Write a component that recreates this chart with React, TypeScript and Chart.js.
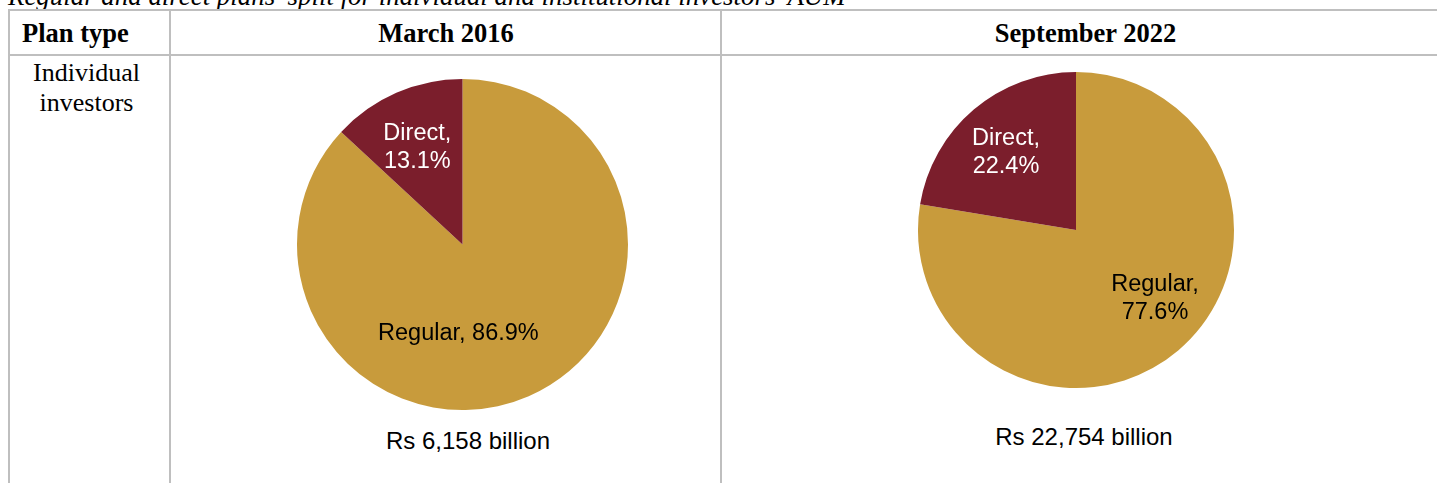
import React, { useEffect, useRef } from "react";
import { Chart, registerables } from "chart.js";

Chart.register(...registerables);

// ---- data ----
const sliceLabels = ["Regular", "Direct"];
const march2016Shares = [86.9, 13.1];
const september2022Shares = [77.6, 22.4];
const periodLabels = ["March 2016", "September 2022"];
const aumTotals = ["Rs 6,158 billion", "Rs 22,754 billion"];
const planTypeHeader = "Plan type";
const rowLabel = ["Individual", "investors"];
const titleText =
  "Regular and direct plans' split for individual and institutional investors' AUM";

// ---- styles ----
const REGULAR_COLOR = "#C89B3C";
const DIRECT_COLOR = "#7B1E2C";
const LINE_COLOR = "#BFBFBF";
const SANS = "'Liberation Sans', Arial, sans-serif";
const SERIF = "'Liberation Serif', 'Times New Roman', serif";

type Place = { fx: number; fy: number; color: string; split: boolean };

const sliceLabelPlugin = {
  id: "sliceLabelPlugin",
  afterDatasetsDraw(chart: any, _args: any, opts: any) {
    const meta = chart.getDatasetMeta(0);
    const ds = chart.data.datasets[0];
    const ctx = chart.ctx;
    const places: Place[] = opts.places || [];
    meta.data.forEach((arc: any, i: number) => {
      const p = places[i];
      if (!p) return;
      const { x, y, outerRadius } = arc.getProps(["x", "y", "outerRadius"], true);
      const name = chart.data.labels[i] + ",";
      const val = Number(ds.data[i]).toFixed(1) + "%";
      const lines = p.split ? [name, val] : [name + " " + val];
      ctx.save();
      ctx.font = "23.5px " + SANS;
      ctx.fillStyle = p.color;
      ctx.textAlign = "center";
      ctx.textBaseline = "middle";
      const lh = 28;
      lines.forEach((ln, k) => {
        ctx.fillText(
          ln,
          x + p.fx * outerRadius,
          y + p.fy * outerRadius + (k - (lines.length - 1) / 2) * lh
        );
      });
      ctx.restore();
    });
  },
};

function PieChart(props: {
  values: number[];
  places: Place[];
  left: number;
  top: number;
  size: number;
}) {
  const ref = useRef<HTMLCanvasElement | null>(null);
  useEffect(() => {
    if (!ref.current) return;
    const chart = new Chart(ref.current, {
      type: "pie",
      data: {
        labels: sliceLabels,
        datasets: [
          {
            data: props.values,
            backgroundColor: [REGULAR_COLOR, DIRECT_COLOR],
            borderWidth: 0,
          },
        ],
      },
      options: {
        animation: false,
        responsive: true,
        maintainAspectRatio: false,
        layout: { padding: 5 },
        plugins: {
          legend: { display: false },
          tooltip: { enabled: false },
          title: { display: false },
          sliceLabelPlugin: { places: props.places },
        } as any,
      },
      plugins: [sliceLabelPlugin],
    });
    return () => chart.destroy();
  }, []);
  return (
    <div
      style={{
        position: "absolute",
        left: props.left,
        top: props.top,
        width: props.size,
        height: props.size,
      }}
    >
      <canvas ref={ref} />
    </div>
  );
}

const hLine = (top: number, left: number, width: number): React.CSSProperties => ({
  position: "absolute",
  top,
  left,
  width,
  height: 2,
  background: LINE_COLOR,
});
const vLine = (left: number, top: number, height: number): React.CSSProperties => ({
  position: "absolute",
  top,
  left,
  width: 2,
  height,
  background: LINE_COLOR,
});

export default function App() {
  const headerStyle: React.CSSProperties = {
    position: "absolute",
    top: 18,
    fontFamily: SERIF,
    fontWeight: "bold",
    fontSize: 26.5,
    lineHeight: "30px",
    color: "#000",
    whiteSpace: "nowrap",
  };
  const captionStyle: React.CSSProperties = {
    position: "absolute",
    width: 400,
    textAlign: "center",
    fontFamily: SANS,
    fontSize: 24,
    lineHeight: "30px",
    color: "#000",
    whiteSpace: "nowrap",
  };
  return (
    <div
      style={{
        position: "fixed",
        left: 0,
        top: 0,
        width: 1437,
        height: 483,
        overflow: "hidden",
        background: "#fff",
      }}
    >
      <div
        style={{
          position: "absolute",
          left: 8,
          top: -17,
          fontFamily: SERIF,
          fontStyle: "italic",
          fontSize: 26.9,
          lineHeight: "26px",
          whiteSpace: "nowrap",
          color: "#000",
        }}
      >
        {titleText}
      </div>
      <div style={hLine(9, 8, 1450)} />
      <div style={hLine(54, 8, 1450)} />
      <div style={vLine(8, 9, 480)} />
      <div style={vLine(169, 9, 480)} />
      <div style={vLine(720, 9, 480)} />

      <div style={{ ...headerStyle, left: 22 }}>{planTypeHeader}</div>
      <div style={{ ...headerStyle, left: 171, width: 550, textAlign: "center" }}>
        {periodLabels[0]}
      </div>
      <div style={{ ...headerStyle, left: 722, width: 727, textAlign: "center" }}>
        {periodLabels[1]}
      </div>

      <div
        style={{
          position: "absolute",
          left: 7,
          top: 58,
          width: 159,
          textAlign: "center",
          fontFamily: SERIF,
          fontSize: 26,
          lineHeight: "30px",
          color: "#000",
        }}
      >
        {rowLabel[0]}
        <br />
        {rowLabel[1]}
      </div>

      <PieChart
        values={march2016Shares}
        left={292}
        top={74}
        size={341}
        places={[
          { fx: -0.025, fy: 0.536, color: "#000", split: false },
          { fx: -0.273, fy: -0.583, color: "#fff", split: true },
        ]}
      />
      <PieChart
        values={september2022Shares}
        left={913}
        top={67}
        size={326}
        places={[
          { fx: 0.5, fy: 0.434, color: "#000", split: true },
          { fx: -0.443, fy: -0.492, color: "#fff", split: true },
        ]}
      />

      <div style={{ ...captionStyle, left: 468 - 200, top: 426 }}>{aumTotals[0]}</div>
      <div style={{ ...captionStyle, left: 1084 - 200, top: 422 }}>{aumTotals[1]}</div>
    </div>
  );
}
